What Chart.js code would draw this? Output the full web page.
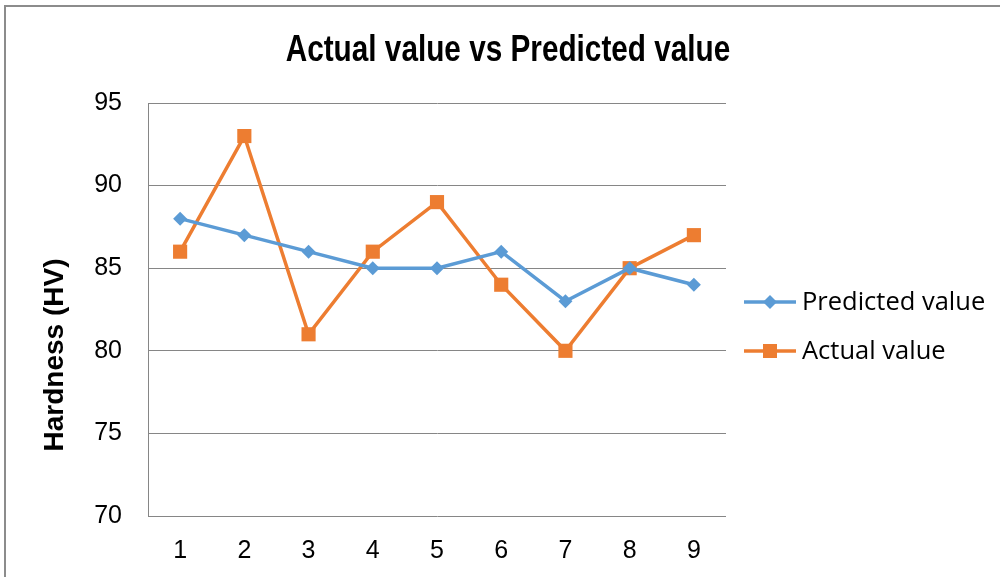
<!DOCTYPE html>
<html>
<head>
<meta charset="utf-8">
<script src="https://cdn.jsdelivr.net/npm/chart.js@4"></script>
<style>
  html, body { margin: 0; padding: 0; background: #fff; }
  #wrap { width: 1000px; height: 577px; }
</style>
</head>
<body>
<div id="wrap"><canvas id="lineChart"></canvas></div>
<script>
var categories = ['1', '2', '3', '4', '5', '6', '7', '8', '9'];
var predicted = [88, 87, 86, 85, 85, 86, 83, 85, 84];
var actual = [86, 93, 81, 86, 89, 84, 80, 85, 87];
var yTicks = [70, 75, 80, 85, 90, 95];

var chartTitle = 'Actual value vs Predicted value';
var yTitle = 'Hardness (HV)';

var blue = '#5b9bd5';
var orange = '#ed7d31';
var gridColor = '#868686';
var sans = '"Liberation Sans", Arial, sans-serif';

// title, y axis title, legend and outer frame
var decorPlugin = {
    id: 'decor',
    afterDraw: function (chart) {
        var ctx = chart.ctx;
        ctx.save();

        ctx.strokeStyle = '#8c8c8c';
        ctx.lineWidth = 2;
        ctx.beginPath();
        ctx.moveTo(5, 577);
        ctx.lineTo(5, 6);
        ctx.lineTo(1000, 6);
        ctx.stroke();

        // condensed bold title
        ctx.fillStyle = '#000';
        ctx.font = 'bold 36px ' + sans;
        ctx.textAlign = 'center';
        ctx.textBaseline = 'middle';
        ctx.save();
        ctx.translate(508, 51);
        ctx.scale(0.826, 1);
        ctx.fillText(chartTitle, 0, 0);
        ctx.restore();

        ctx.save();
        ctx.translate(55, 355);
        ctx.rotate(-Math.PI / 2);
        ctx.font = 'bold 28px ' + sans;
        ctx.fillText(yTitle, 0, 0);
        ctx.restore();

        var rows = [302, 351];
        chart.data.datasets.forEach(function (ds, i) {
            var y = rows[i];
            ctx.strokeStyle = ds.borderColor;
            ctx.lineWidth = 3.5;
            ctx.beginPath();
            ctx.moveTo(744, y);
            ctx.lineTo(796, y);
            ctx.stroke();
            ctx.fillStyle = ds.backgroundColor;
            if (ds.pointStyle === 'rect') {
                ctx.fillRect(770 - 7, y - 7, 14, 14);
            } else {
                ctx.beginPath();
                ctx.moveTo(770, y - 7);
                ctx.lineTo(777, y);
                ctx.lineTo(770, y + 7);
                ctx.lineTo(763, y);
                ctx.closePath();
                ctx.fill();
            }
            ctx.fillStyle = '#000';
            ctx.font = '25.5px "Open Sans", sans-serif';
            ctx.textAlign = 'left';
            ctx.textBaseline = 'middle';
            ctx.fillText(ds.label, 802, y + 1);
        });
        ctx.restore();
    }
};

var lineChartCanvas = document.getElementById('lineChart').getContext('2d');

new Chart(lineChartCanvas, {
    type: 'line',
    data: {
        labels: categories,
        datasets: [
            {
                label: 'Predicted value',
                data: predicted,
                borderColor: blue,
                backgroundColor: blue,
                borderWidth: 3.5,
                pointStyle: 'rectRot',
                pointRadius: 7,
                pointBorderWidth: 0,
                tension: 0
            },
            {
                label: 'Actual value',
                data: actual,
                borderColor: orange,
                backgroundColor: orange,
                borderWidth: 3.5,
                pointStyle: 'rect',
                pointRadius: 10,
                pointBorderWidth: 0,
                tension: 0
            }
        ]
    },
    options: {
        responsive: true,
        maintainAspectRatio: false,
        animation: false,
        layout: {
            padding: { left: 0, top: 103, right: 274, bottom: 0 }
        },
        plugins: {
            legend: { display: false },
            title: { display: false },
            tooltip: { enabled: false }
        },
        scales: {
            x: {
                offset: true,
                grid: { display: false, drawTicks: false },
                border: { display: false },
                ticks: {
                    color: '#000',
                    padding: 20,
                    font: { family: sans, size: 25 }
                },
                afterFit: function (scale) { scale.height = 61; }
            },
            y: {
                min: 70,
                max: 95,
                afterBuildTicks: function (scale) {
                    scale.ticks = yTicks.map(function (v) { return { value: v }; });
                },
                grid: { color: gridColor, lineWidth: 1, drawTicks: false },
                border: { display: true, color: gridColor, width: 1 },
                ticks: {
                    color: '#000',
                    padding: 26,
                    font: { family: sans, size: 25 }
                },
                afterFit: function (scale) { scale.width = 148; }
            }
        }
    },
    plugins: [decorPlugin]
});
</script>
</body>
</html>
